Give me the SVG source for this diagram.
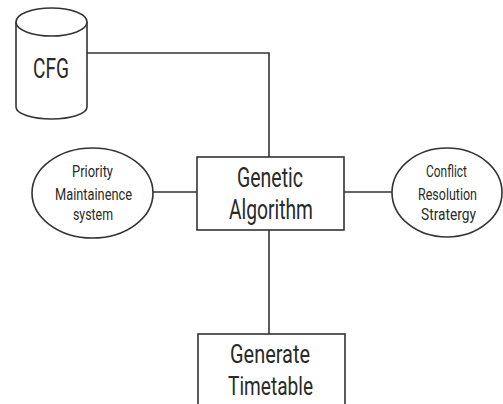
<svg xmlns="http://www.w3.org/2000/svg" width="503" height="404" viewBox="0 0 503 404">
<style>
.s{fill:#fff;stroke:#333;stroke-width:1.6}
.c{fill:none;stroke:#333;stroke-width:1.6}
text{font-family:Roboto,"Liberation Sans",sans-serif;fill:#2a2a2a;text-anchor:middle}
.big{font-size:27px}
.sm{font-size:17px}
</style>
<rect width="503" height="404" fill="#fff"/>
<g id="connectors">
<path class="c" d="M87 53 H269 V157"/>
<path class="c" d="M153 192 H197"/>
<path class="c" d="M344 192 H392"/>
<path class="c" d="M269 230 V334"/>
</g>
<g id="cfg">
<path class="s" d="M16 22 V107 A35.5 12 0 0 0 87 107 V22"/>
<ellipse class="s" cx="51.5" cy="22" rx="35.5" ry="14"/>
<text class="big" x="51" y="78" style="font-size:28px" textLength="36" lengthAdjust="spacingAndGlyphs">CFG</text>
</g>
<g id="genetic">
<rect class="s" x="197" y="157" width="147" height="73"/>
<text class="big" x="270" y="187" textLength="66" lengthAdjust="spacingAndGlyphs">Genetic</text>
<text class="big" x="271" y="219" textLength="84" lengthAdjust="spacingAndGlyphs">Algorithm</text>
</g>
<g id="priority">
<ellipse class="s" cx="92.5" cy="193" rx="60.5" ry="45"/>
<text class="sm" x="92.5" y="177" textLength="41" lengthAdjust="spacingAndGlyphs">Priority</text>
<text class="sm" x="93.5" y="200" textLength="77" lengthAdjust="spacingAndGlyphs">Maintainence</text>
<text class="sm" x="93" y="220" textLength="40" lengthAdjust="spacingAndGlyphs">system</text>
</g>
<g id="conflict">
<ellipse class="s" cx="447" cy="192.5" rx="55" ry="44.5"/>
<text class="sm" x="446.5" y="177" textLength="41" lengthAdjust="spacingAndGlyphs">Conflict</text>
<text class="sm" x="447.5" y="200" textLength="59" lengthAdjust="spacingAndGlyphs">Resolution</text>
<text class="sm" x="448.5" y="220" textLength="55" lengthAdjust="spacingAndGlyphs">Stratergy</text>
</g>
<g id="generate">
<rect class="s" x="198" y="334" width="147" height="90"/>
<text class="big" x="270" y="363" style="font-size:26px" textLength="80" lengthAdjust="spacingAndGlyphs">Generate</text>
<text class="big" x="270.5" y="395" style="font-size:26px" textLength="85" lengthAdjust="spacingAndGlyphs">Timetable</text>
</g>
</svg>
